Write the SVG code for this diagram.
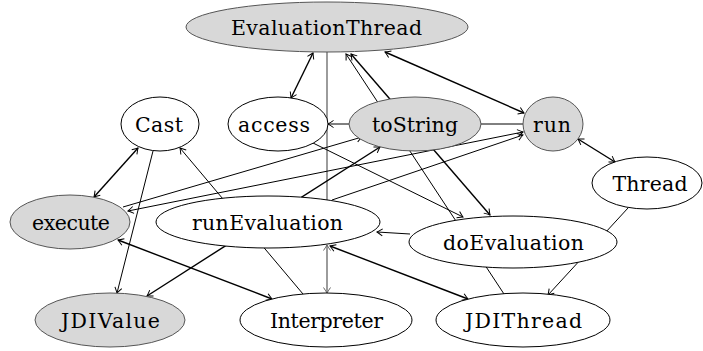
<svg xmlns="http://www.w3.org/2000/svg" width="703" height="351" viewBox="0 0 703 351">
  <style>
    .bg { fill: #ffffff; }
    .n ellipse { fill: #ffffff; stroke: #000000; stroke-width: 1; }
    .n.g ellipse { fill: #d8d8d8; stroke: #555555; }
    .e { stroke: #000000; stroke-width: 1; fill: none; }
    .e.t { stroke-width: 1.4; }
    .e.gr { stroke: #666666; stroke-width: 1.3; }
    .a1 { marker-end: url(#ah); }
    .a2 { marker-start: url(#ah); marker-end: url(#ah); }
    .gr.a2 { marker-start: url(#ahg); marker-end: url(#ahg); }
  </style>
  <defs>
    <marker id="ah" viewBox="-7 -5 8 10" refX="0" refY="0" markerWidth="8" markerHeight="10" markerUnits="userSpaceOnUse" orient="auto-start-reverse">
      <path d="M-5.5,-3.5 Q-1.5,-0.8 0,0 Q-1.5,0.8 -5.5,3.5" fill="none" stroke="#000000" stroke-width="1"/>
    </marker>
    <marker id="ahg" viewBox="-7 -5 8 10" refX="0" refY="0" markerWidth="8" markerHeight="10" markerUnits="userSpaceOnUse" orient="auto-start-reverse">
      <path d="M-5.5,-3.5 Q-1.5,-0.8 0,0 Q-1.5,0.8 -5.5,3.5" fill="none" stroke="#666666" stroke-width="1"/>
    </marker>
  </defs>
  <rect class="bg" x="0" y="0" width="703" height="351"/>

  <!-- connectors (drawn first so node fills sit on top of lines passing behind them) -->
  <g id="connectors">
    <line class="e gr" x1="327" y1="52" x2="327" y2="200"/>
    <line class="e gr a2" x1="327" y1="245" x2="327" y2="293"/>
    <line class="e t a2" x1="313" y1="53" x2="291" y2="98"/>
    <line class="e a1" x1="504" y1="294" x2="346" y2="54"/>
    <line class="e t a2" x1="351" y1="54" x2="490" y2="215"/>
    <line class="e t a2" x1="385" y1="52" x2="524" y2="113"/>
    <line class="e a1" x1="349" y1="124" x2="328" y2="124"/>
    <line class="e" x1="481" y1="124" x2="523" y2="124"/>
    <line class="e t a2" x1="138" y1="148" x2="94" y2="197"/>
    <line class="e a1" x1="153" y1="151" x2="117" y2="293"/>
    <line class="e a1" x1="303" y1="294" x2="180" y2="148"/>
    <line class="e a1" x1="123" y1="207" x2="362" y2="137"/>
    <line class="e a2" x1="128" y1="211" x2="523" y2="132"/>
    <line class="e t a2" x1="147" y1="296" x2="380" y2="147"/>
    <line class="e a1" x1="332" y1="200" x2="523" y2="135"/>
    <line class="e a1" x1="313" y1="143" x2="463" y2="217"/>
    <line class="e a1" x1="410" y1="234" x2="377" y2="232"/>
    <line class="e a1" x1="628" y1="208" x2="548" y2="295"/>
    <line class="e t a2" x1="578" y1="139" x2="615" y2="162"/>
    <line class="e t a2" x1="118" y1="240" x2="272" y2="299"/>
    <line class="e t a2" x1="330" y1="246" x2="468" y2="299"/>
  </g>

  <!-- nodes -->
  <g font-family="'DejaVu Serif', 'Liberation Serif', serif" font-size="20.5" font-weight="normal" text-anchor="middle" fill="#000000">
    <g id="EvaluationThread" class="n g">
      <ellipse cx="327" cy="27" rx="141" ry="25"/>
      <text x="326.5" y="34.5" textLength="191" lengthAdjust="spacing">EvaluationThread</text>
    </g>
    <g id="Cast" class="n">
      <ellipse cx="160" cy="124" rx="39" ry="27"/>
      <text x="159" y="132" textLength="48" lengthAdjust="spacing">Cast</text>
    </g>
    <g id="access" class="n">
      <ellipse cx="278" cy="124" rx="50" ry="27"/>
      <text x="274" y="132" textLength="72" lengthAdjust="spacing">access</text>
    </g>
    <g id="toString" class="n g">
      <ellipse cx="415" cy="124" rx="66" ry="27"/>
      <text x="415" y="132" textLength="86" lengthAdjust="spacing">toString</text>
    </g>
    <g id="run" class="n g">
      <ellipse cx="553" cy="124" rx="30" ry="27"/>
      <text x="552" y="132" textLength="38" lengthAdjust="spacing">run</text>
    </g>
    <g id="Thread" class="n">
      <ellipse cx="647" cy="183" rx="55" ry="26"/>
      <text x="650" y="191" textLength="75" lengthAdjust="spacing">Thread</text>
    </g>
    <g id="execute" class="n g">
      <ellipse cx="70" cy="222" rx="60" ry="27"/>
      <text x="71" y="230" textLength="78" lengthAdjust="spacing">execute</text>
    </g>
    <g id="runEvaluation" class="n">
      <ellipse cx="268" cy="222" rx="112" ry="26"/>
      <text x="267.5" y="230" textLength="151" lengthAdjust="spacing">runEvaluation</text>
    </g>
    <g id="doEvaluation" class="n">
      <ellipse cx="513" cy="242" rx="104" ry="26"/>
      <text x="513.5" y="250" textLength="141" lengthAdjust="spacing">doEvaluation</text>
    </g>
    <g id="JDIValue" class="n g">
      <ellipse cx="110" cy="320" rx="75" ry="27"/>
      <text x="110.5" y="328" textLength="99" lengthAdjust="spacing">JDIValue</text>
    </g>
    <g id="Interpreter" class="n">
      <ellipse cx="326" cy="320" rx="86" ry="27"/>
      <text x="326.5" y="328" textLength="113" lengthAdjust="spacing">Interpreter</text>
    </g>
    <g id="JDIThread" class="n">
      <ellipse cx="523" cy="320" rx="87" ry="27"/>
      <text x="523.5" y="328" textLength="117" lengthAdjust="spacing">JDIThread</text>
    </g>
  </g>
</svg>
